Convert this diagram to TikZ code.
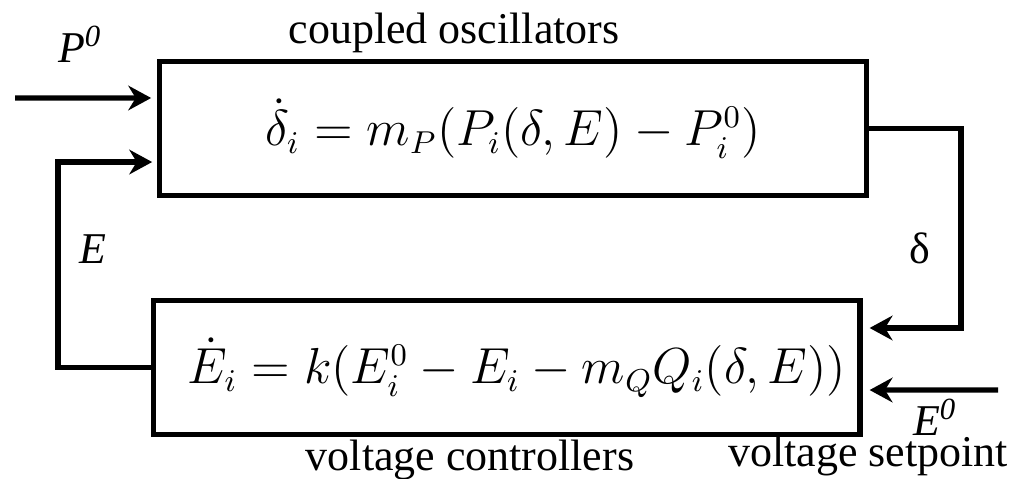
\documentclass[tikz,border=0pt]{standalone}
\usepackage{amsmath}
\usepackage[no-math]{fontspec}
\setmainfont{Liberation Serif}
\usetikzlibrary{arrows.meta}

\begin{document}
\begin{tikzpicture}[
    x=0.01cm, y=-0.01cm,
    block/.style={draw, line width=1.5pt, minimum width=7.06cm,
                  minimum height=1.34cm, inner sep=0pt,
                  font=\fontsize{13.5}{16}\selectfont},
    signal/.style={->, >={Stealth[length=6.5pt, width=7pt]}, line width=1.5pt},
    tag/.style={font=\fontsize{12.5}{15}\selectfont, inner sep=0pt, anchor=base}
]
\useasboundingbox (0,0) rectangle (1016,478);

\node[block] (osc) at (513,128.5) {$\dot{\delta}_i = m_P(P_i(\delta,E) - P_i^0)$};
\node[block] (ctrl) at (506.75,367.5) {\hspace*{0.2cm}$\dot{E}_i = k(E_i^0 - E_i - m_Q Q_i(\delta,E))$};

\coordinate (pin) at (15,98);
\coordinate (ein) at (998,390);

\node[tag] (title) at (454,43) {coupled oscillators};
\node[tag] (ptag) at (80,62) {\textit{P\textsuperscript{0}}};
\node[tag] (etag) at (93,263) {\textit{E}};
\node[tag] (dtag) at (920,263) {δ};
\node[tag] (e0tag) at (935,435) {\textit{E\textsuperscript{0}}};
\node[tag] (subtitle) at (470,470) {voltage controllers};
\node[tag] (setpoint) at (868,466) {voltage setpoint};

\draw[signal] (pin) -- ([xshift=-0.06cm, yshift=0.305cm]osc.west);
\draw[signal] (ctrl.west) -- ++(-93,0) |- ([xshift=-0.05cm, yshift=-0.335cm]osc.west);
\draw[signal] (osc.east) -- ++(92,0) |- ([xshift=0.07cm, yshift=0.395cm]ctrl.east);
\draw[signal] (ein) -- ([xshift=0.07cm, yshift=-0.225cm]ctrl.east);

\end{tikzpicture}
\end{document}
